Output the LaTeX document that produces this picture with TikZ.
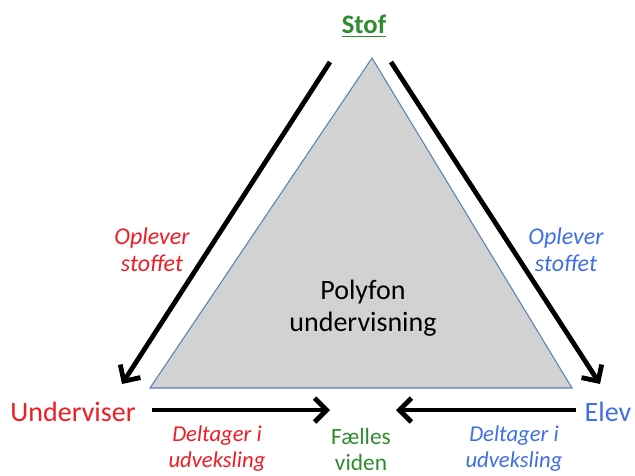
\documentclass[tikz,border=0pt]{standalone}
\usepackage{fontspec}
\setmainfont{Carlito}
\usepackage{tikz}
\usetikzlibrary{arrows.meta}
\usetikzlibrary{positioning}

\definecolor{rodt}{HTML}{EE1C25}
\definecolor{blaat}{HTML}{3F6FE6}
\definecolor{groent}{HTML}{2E8B2E}
\definecolor{kant}{HTML}{5B80B8}

\tikzset{
  pil/.style={line width=3.6pt, -{Straight Barb[length=9pt, width=18pt]}},
  rolle/.style={font=\fontsize{21}{24}\selectfont, inner sep=0pt},
  forklaring/.style={font=\fontsize{17}{19.5}\selectfont\itshape, align=center, inner sep=0pt}
}

\begin{document}
\begin{tikzpicture}[x=0.75pt, y=-0.75pt]
			\useasboundingbox (0,0) rectangle (635,475);
			% trekanten
			\coordinate (Top) at (372,58);
			\coordinate (VenstreHj) at (150,388);
			\coordinate (HoejreHj) at (572,388);
			\draw[kant, fill=gray!35, line width=0.8pt] (Top) -- (VenstreHj) -- (HoejreHj) -- cycle;
			\node[font=\fontsize{21}{24}\selectfont, align=center] (Polyfon) at (363,308) {Polyfon\\undervisning};
			% hjoernerne
			\node[rolle, groent, font=\fontsize{20}{22}\selectfont\bfseries] (Stof) at (364,26) {\underline{Stof}};
			\node[rolle, rodt] (Underviser) at (73,412) {Underviser};
			\node[rolle, blaat] (Elev) at (608,412) {Elev};
			\node[forklaring, groent, font=\fontsize{17.5}{19.5}\selectfont] (Faelles) at (361,449) {Fælles\\viden};
			% forklaringer
			\node[forklaring, rodt, font=\fontsize{18}{20}\selectfont\itshape] (OplevR) at (152,250) {Oplever\\stoffet};
			\node[forklaring, blaat, font=\fontsize{18}{20}\selectfont\itshape] (OplevB) at (566,250) {Oplever\\stoffet};
			\node[forklaring, rodt] (DeltR) at (217,449) {Deltager i\\udveksling};
			\node[forklaring, blaat] (DeltB) at (514,449) {Deltager i\\udveksling};
			% pile
			\coordinate (VStart) at (330,62);
			\coordinate (VSlut) at (122,384);
			\coordinate (HStart) at (391,62);
			\coordinate (HSlut) at (600,384);
			\coordinate (MidV) at (330,410);
			\coordinate (MidH) at (396,410);
			\coordinate (UStart) at (152,410);
			\coordinate (EStart) at (576,410);
			\draw[pil] (VStart) -- (VSlut);
			\draw[pil] (HStart) -- (HSlut);
			\draw[pil] (UStart) -- (MidV);
			\draw[pil] (EStart) -- (MidH);
		\end{tikzpicture}
\end{document}
